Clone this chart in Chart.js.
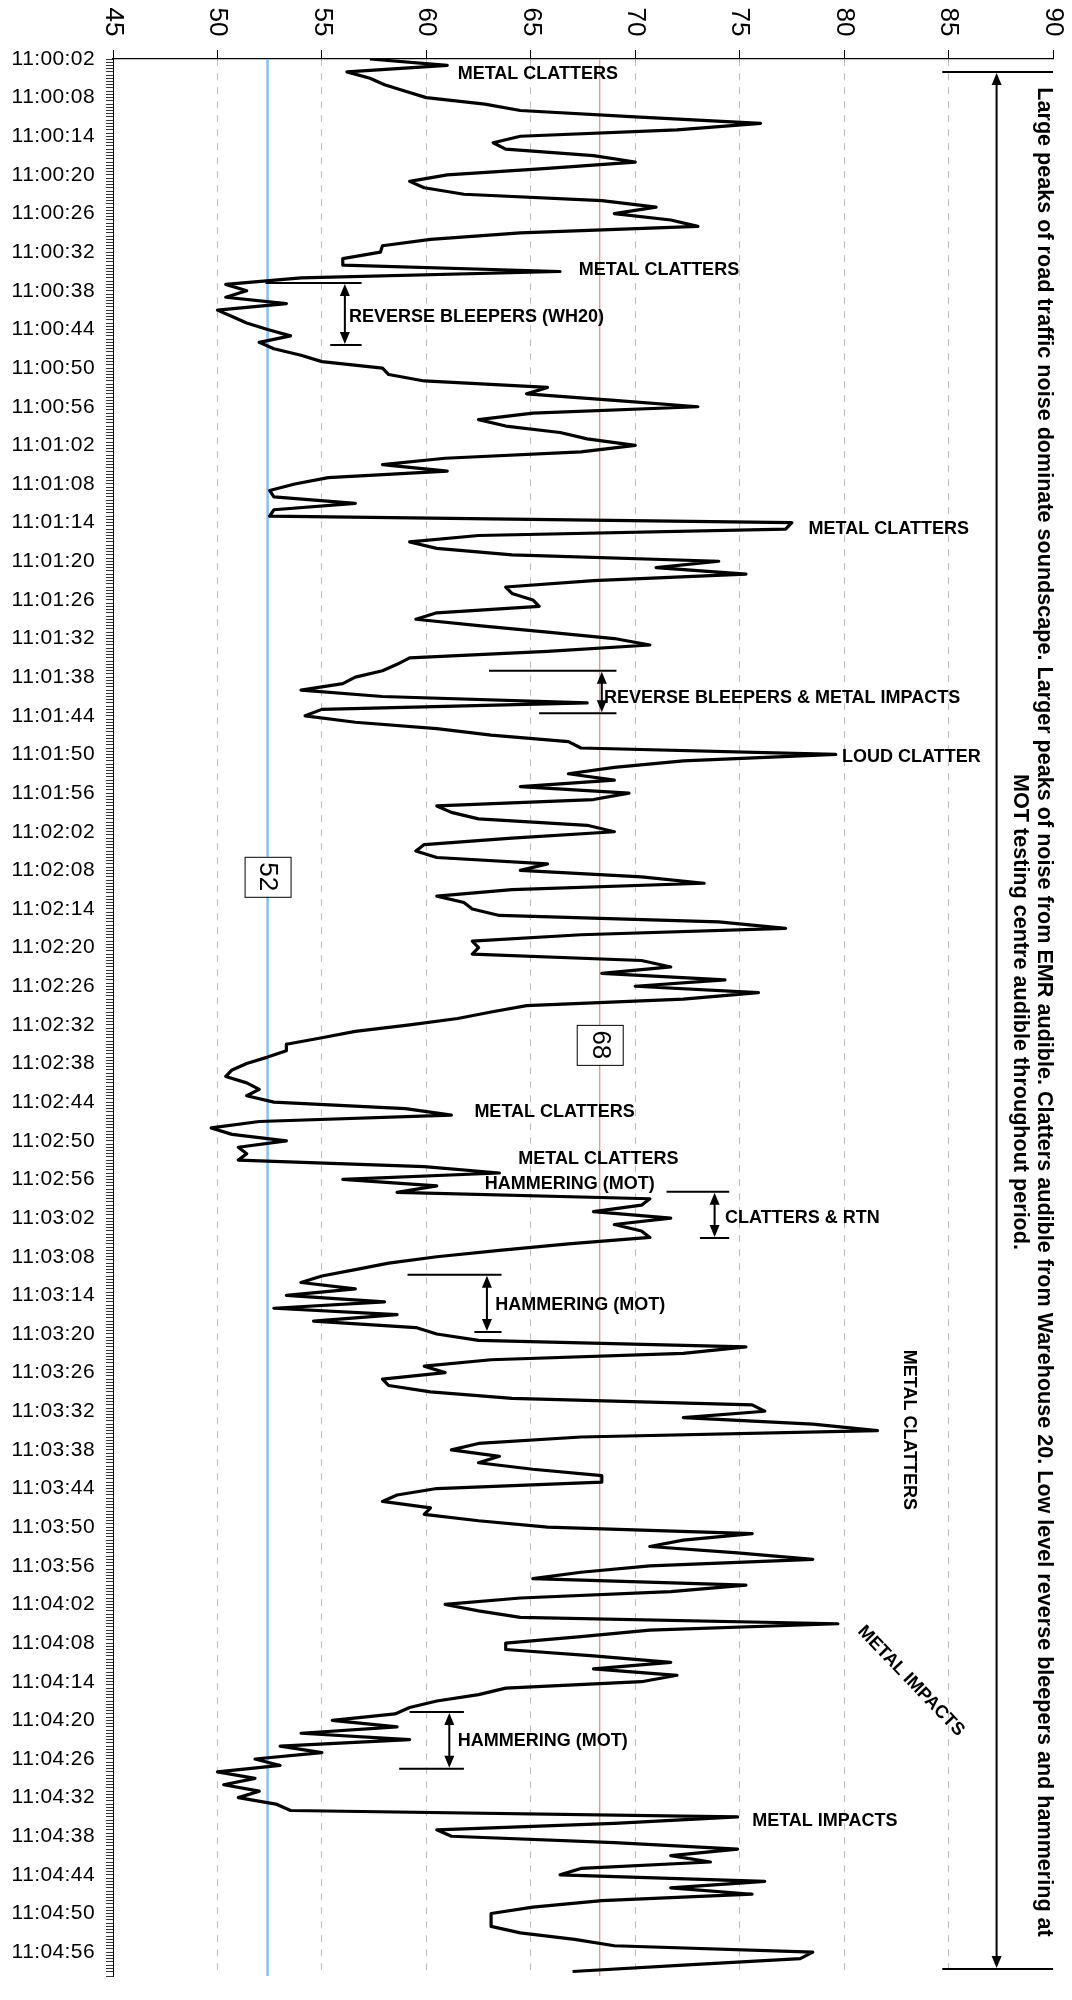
<!DOCTYPE html>
<html>
<head>
<meta charset="utf-8">
<title>Noise level 11:00 - 11:05</title>
<script src="https://cdn.jsdelivr.net/npm/chart.js@4.4.1/dist/chart.umd.min.js"></script>
<style>
  body { margin: 0; background: #fff; }
  #wrap { width: 1072px; height: 2000px; position: relative; }
</style>
</head>
<body>
<div id="wrap"><canvas id="noiseChart"></canvas></div>
<script>
// LAeq, one reading per second starting 11:00:02
const levels = [
  57.3, 61, 56.2, 57.3, 58, 59, 60, 62.8, 64.5, 70,
  76, 72, 64.5, 63.2, 63.8, 68, 70, 65.8, 61, 59.2,
  59.9, 61.8, 68.4, 71, 69, 71.7, 73, 64.5, 60.2, 57.9,
  57.8, 56, 56, 66.4, 54, 50.4, 51.4, 50.4, 53.3, 50,
  50.7, 51.4, 52.4, 53.5, 52, 52.7, 54, 55, 57.9, 58.2,
  59.9, 65.8, 64.8, 69, 73, 65.1, 62.5, 63.8, 66.4, 67.7,
  70, 67.4, 60.9, 57.9, 61, 55.3, 53.7, 52.5, 52.7, 56.6,
  52.7, 52.5, 77.5, 77.2, 62.5, 59.2, 60.5, 64.1, 74, 71,
  75.3, 68, 63.8, 64.1, 65.1, 65.4, 60.5, 59.5, 62.5, 65.8,
  69, 70.7, 65.8, 59.2, 58.6, 57.9, 56.6, 56, 54, 57.9,
  67.7, 55, 54.2, 56.6, 60.5, 63.1, 66.8, 67.4, 79.6, 72.3,
  69, 66.8, 69, 64.5, 69.7, 68, 60.5, 61.2, 62.5, 67.7,
  69, 64.1, 59.9, 59.5, 60.5, 65.8, 64.5, 70.3, 73.3, 64.1,
  60.5, 61.8, 62.2, 63.5, 74, 77.2, 67.4, 62.2, 62.5, 62.2,
  70.3, 71.7, 68.4, 74.3, 70, 75.9, 72.3, 64.8, 63.1, 61.5,
  59.2, 56.6, 55, 53.3, 53.3, 52.4, 51.4, 50.7, 50.4, 51.4,
  52, 51.4, 52.7, 59, 61.2, 52, 49.7, 50.7, 53.3, 51,
  51.4, 51, 59.9, 63.5, 56, 60.5, 58.6, 70.7, 70.3, 68,
  71.7, 69, 70.3, 70.7, 66.8, 63.5, 60.5, 58.2, 56.6, 55,
  54, 56.6, 53.3, 58, 52.7, 58.6, 54.6, 59.5, 60.5, 62.5,
  75.3, 72.3, 63.1, 59.9, 60.9, 57.9, 58.2, 60.2, 64.1, 75.6,
  76.2, 72.3, 78.5, 81.6, 67.4, 62.5, 61.2, 63.5, 62.5, 65.1,
  68.4, 68.4, 60.5, 58.6, 57.9, 60.2, 59.9, 62.5, 65.8, 75.6,
  72.3, 70.7, 74.9, 78.5, 70.7, 67.4, 65.1, 75.3, 71.7, 64.5,
  60.9, 62.5, 64.5, 79.7, 70.7, 67.4, 63.8, 63.8, 68, 71.7,
  68, 72, 70.3, 63.8, 62.5, 60.5, 59.2, 58.5, 55.5, 58.6,
  54, 59.2, 53, 55, 51.8, 53, 50, 51.8, 50.3, 52,
  51, 52.8, 53.5, 74.9, 69, 60.5, 61.2, 69, 74.9, 71.7,
  73.6, 67.4, 66.4, 76.2, 71.7, 75.6, 68.4, 65.1, 63.1, 63.1,
  63.1, 64.5, 67.1, 69, 78.5, 77.9, 72.3, 67
];

// one label every 6 seconds down the time axis
const timeLabels = [
  '11:00:02', '11:00:08', '11:00:14', '11:00:20', '11:00:26', '11:00:32', '11:00:38', '11:00:44', '11:00:50', '11:00:56',
  '11:01:02', '11:01:08', '11:01:14', '11:01:20', '11:01:26', '11:01:32', '11:01:38', '11:01:44', '11:01:50', '11:01:56',
  '11:02:02', '11:02:08', '11:02:14', '11:02:20', '11:02:26', '11:02:32', '11:02:38', '11:02:44', '11:02:50', '11:02:56',
  '11:03:02', '11:03:08', '11:03:14', '11:03:20', '11:03:26', '11:03:32', '11:03:38', '11:03:44', '11:03:50', '11:03:56',
  '11:04:02', '11:04:08', '11:04:14', '11:04:20', '11:04:26', '11:04:32', '11:04:38', '11:04:44', '11:04:50', '11:04:56'
];
const valueTicks = [45, 50, 55, 60, 65, 70, 75, 80, 85, 90];

// background and typical peak levels marked on the plot
const lowLine = 52.4;
const highLine = 68.3;
const timeMax = 297.7;

const summary = [
  'Large peaks of road traffic noise dominate soundscape. Larger peaks of noise from EMR audible. Clatters audible from Warehouse 20. Low level reverse bleepers and hammering at',
  'MOT testing centre audible throughout period.'
];

// event notes: text, dB position (left edge), time in seconds
const notes = [
  ['METAL CLATTERS', 61.5, 2.3],
  ['METAL CLATTERS', 67.3, 32.8],
  ['REVERSE BLEEPERS (WH20)', 56.3, 40.1],
  ['METAL CLATTERS', 78.3, 73.0],
  ['REVERSE BLEEPERS & METAL IMPACTS', 68.5, 99.2],
  ['LOUD CLATTER', 79.9, 108.4],
  ['METAL CLATTERS', 62.3, 163.5],
  ['METAL CLATTERS', 64.4, 170.8],
  ['HAMMERING (MOT)', 62.8, 174.7],
  ['CLATTERS & RTN', 74.3, 180.0],
  ['HAMMERING (MOT)', 63.3, 193.5],
  ['HAMMERING (MOT)', 61.5, 261.2],
  ['METAL IMPACTS', 75.6, 273.6]
];
// brackets: arrow dB, start t, end t, top bar [from, to], bottom bar [from, to]
const brackets = [
  [56.1, 34.8, 44.4, [52.3, 56.9], [55.4, 56.9]],
  [68.4, 95.0, 101.6, [63.0, 69.1], [65.4, 69.1]],
  [73.8, 175.9, 183.1, [71.5, 74.5], [73.1, 74.5]],
  [62.9, 188.8, 197.7, [59.1, 63.6], [62.3, 63.6]],
  [61.1, 256.7, 265.5, [59.2, 61.8], [58.7, 61.8]],
  [87.3, 2.0, 296.6, [84.7, 90], [84.7, 90]]
];

const FONT = '"Liberation Sans", Arial, sans-serif';

function arrowHead(ctx, x, y, dir) {
  ctx.beginPath();
  ctx.moveTo(x, y);
  ctx.lineTo(x - 5, y - dir * 12);
  ctx.lineTo(x + 5, y - dir * 12);
  ctx.closePath();
  ctx.fill();
}

function turnedText(ctx, text, x, y, angle, font) {
  ctx.save();
  ctx.translate(x, y);
  ctx.rotate(angle);
  ctx.font = font;
  ctx.textAlign = 'center';
  ctx.textBaseline = 'middle';
  ctx.fillText(text, 0, 0);
  ctx.restore();
}

const notesPlugin = {
  id: 'notes',
  beforeDraw(chart) {
    // time labels are a touch wider spaced in the original
    chart.ctx.letterSpacing = '0.4px';
  },
  beforeDatasetsDraw(chart) {
    chart.ctx.letterSpacing = '0px';
  },
  afterDraw(chart) {
    const { ctx, chartArea, scales: { x, y } } = chart;
    const px = v => x.getPixelForValue(v);
    const py = t => y.getPixelForValue(t);
    ctx.save();
    ctx.letterSpacing = '0px';
    ctx.fillStyle = '#000';
    ctx.strokeStyle = '#000';

    // value axis labels, turned a quarter
    valueTicks.forEach(v => turnedText(ctx, String(v), px(v), chartArea.top - 37, Math.PI / 2, '26px ' + FONT));

    // level markers
    [[lowLine, 127], [highLine, 153.1]].forEach(([lv, t]) => {
      const cx = px(lv), cy = py(t);
      ctx.fillStyle = '#fff';
      ctx.fillRect(cx - 23, cy - 20, 46, 40);
      ctx.lineWidth = 1;
      ctx.strokeRect(cx - 23 + 0.5, cy - 20 + 0.5, 46, 40);
      ctx.fillStyle = '#000';
      turnedText(ctx, String(Math.round(lv)), cx, cy, Math.PI / 2, '26px ' + FONT);
    });

    // event notes
    ctx.font = 'bold 18px ' + FONT;
    ctx.textAlign = 'left';
    ctx.textBaseline = 'middle';
    notes.forEach(([txt, v, t]) => ctx.fillText(txt, px(v), py(t)));
    turnedText(ctx, 'METAL CLATTERS', px(83.1), py(212.9), Math.PI / 2, 'bold 18px ' + FONT);
    turnedText(ctx, 'METAL IMPACTS', px(83.2), py(251.9), Math.PI / 4 + 0.02, 'bold 18px ' + FONT);

    // brackets with double arrows
    ctx.lineWidth = 2;
    brackets.forEach(([v, t1, t2, top, bot]) => {
      const ax = px(v), y1 = py(t1), y2 = py(t2);
      ctx.beginPath();
      ctx.moveTo(px(top[0]), y1); ctx.lineTo(px(top[1]), y1);
      ctx.moveTo(px(bot[0]), y2); ctx.lineTo(px(bot[1]), y2);
      ctx.moveTo(ax, y1 + 6); ctx.lineTo(ax, y2 - 6);
      ctx.stroke();
      arrowHead(ctx, ax, y1 + 1, -1);
      arrowHead(ctx, ax, y2 - 1, 1);
    });

    // summary note down the right side
    let size = 19;
    ctx.font = 'bold ' + size + 'px ' + FONT;
    size = size * 1850 / ctx.measureText(summary[0]).width;
    turnedText(ctx, summary[0], px(89.55), py(148), Math.PI / 2, 'bold ' + size.toFixed(2) + 'px ' + FONT);
    turnedText(ctx, summary[1], px(88.4), py(148), Math.PI / 2, 'bold ' + size.toFixed(2) + 'px ' + FONT);

    ctx.restore();
  }
};

const ctx = document.getElementById('noiseChart').getContext('2d');
const noiseChart = new Chart(ctx, {
  type: 'line',
  data: {
    datasets: [{
      label: 'LAeq',
      data: levels.map((v, i) => ({ x: v, y: i })),
      borderColor: '#000',
      borderWidth: 3.2,
      borderJoinStyle: 'round',
      pointRadius: 0,
      tension: 0
    }, {
      label: 'low',
      data: [{ x: lowLine, y: 0 }, { x: lowLine, y: timeMax }],
      borderColor: '#86c1f0',
      borderWidth: 2.5,
      pointRadius: 0
    }, {
      label: 'high',
      data: [{ x: highLine, y: 0 }, { x: highLine, y: timeMax }],
      borderColor: '#ee9090',
      borderWidth: 1.3,
      pointRadius: 0
    }]
  },
  options: {
    indexAxis: 'y',
    responsive: true,
    maintainAspectRatio: false,
    animation: false,
    layout: { padding: { left: 0, top: 0, right: 19, bottom: 24 } },
    plugins: { legend: { display: false }, tooltip: { enabled: false } },
    scales: {
      x: {
        type: 'linear',
        position: 'top',
        min: 45,
        max: 90,
        afterFit: s => { s.height = 59; },
        border: { display: true, color: '#000', width: 1.2, dash: [7, 7] },
        grid: {
          color: c => (c.tick && (c.tick.value === 45 || c.tick.value === 90)) ? 'rgba(0,0,0,0)' : '#bdbdbd',
          lineWidth: 1,
          drawTicks: true,
          tickLength: 9,
          tickColor: '#000',
          tickBorderDash: []
        },
        ticks: { stepSize: 5, display: false }
      },
      y: {
        type: 'linear',
        position: 'left',
        reverse: true,
        min: 0,
        max: timeMax,
        afterFit: s => { s.width = 113; },
        border: { display: true, color: '#000', width: 1 },
        grid: { display: true, drawOnChartArea: false, drawTicks: true, tickLength: 7, color: '#333', lineWidth: 1 },
        ticks: {
          stepSize: 0.5,
          autoSkip: false,
          padding: 11,
          color: '#000',
          font: { family: FONT, size: 21 },
          callback: v => v % 6 === 0 ? timeLabels[v / 6] : ''
        }
      }
    }
  },
  plugins: [notesPlugin]
});
</script>
</body>
</html>
